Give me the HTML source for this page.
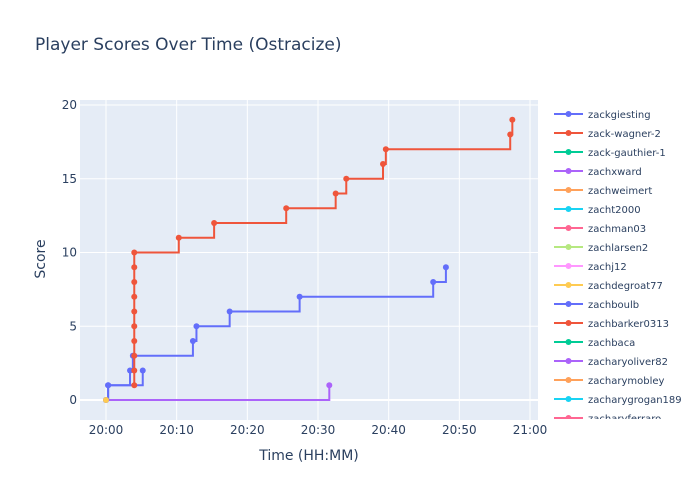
<!DOCTYPE html>
<html><head><meta charset="utf-8"><style>
body{margin:0;background:#fff;font-family:"DejaVu Sans","Liberation Sans",sans-serif}
svg text{font-family:"DejaVu Sans","Liberation Sans",sans-serif;fill:#2a3f5f}
</style></head><body>
<svg id="c" width="700" height="500">
<text x="35" y="50" font-size="17">Player Scores Over Time (Ostracize)</text>
<rect x="80" y="100" width="458" height="320" fill="#e5ecf6"/>
<g id="grid"></g><g id="series"></g><g id="legend"></g>
<text x="309" y="460" font-size="14" text-anchor="middle">Time (HH:MM)</text>
<text x="45" y="259" font-size="14" text-anchor="middle" transform="rotate(-90 45 259)">Score</text>
</svg>
<script>
const xTicks=[0,10,20,30,40,50,60];
const xTickLabels=["20:00","20:10","20:20","20:30","20:40","20:50","21:00"];
const yTicks=[0,5,10,15,20];
const legendNames=["zackgiesting","zack-wagner-2","zack-gauthier-1","zachxward","zachweimert","zacht2000","zachman03","zachlarsen2","zachj12","zachdegroat77","zachboulb","zachbarker0313","zachbaca","zacharyoliver82","zacharymobley","zacharygrogan189","zacharyferraro"];
const legendColors=["#636efa","#EF553B","#00cc96","#ab63fa","#FFA15A","#19d3f3","#FF6692","#B6E880","#FF97FF","#FECB52","#636efa","#EF553B","#00cc96","#ab63fa","#FFA15A","#19d3f3","#FF6692"];
// minutes after 20:00
const giestingT=[0,0.3,3.4,3.8,12.3,12.8,17.5,27.4,46.3,48.1];
const giestingV=[0,1,2,3,4,5,6,7,8,9];
const wagnerT=[4.0,4.0,4.0,4.0,4.0,4.0,4.0,4.0,4.0,4.0,10.3,15.3,25.5,32.5,34.0,39.2,39.6,57.2,57.5];
const wagnerV=[1,2,3,4,5,6,7,8,9,10,11,12,13,14,15,16,17,18,19];
const xwardT=[0,31.6];
const xwardV=[0,1];
const boulbT=[0,0.3,5.2];
const boulbV=[0,1,2];
const degroatT=[0];
const degroatV=[0];
const X=t=>106+t*7.0667, Y=v=>400-v*14.75;
const NS="http://www.w3.org/2000/svg";
const mk=(tag,at,par)=>{const e=document.createElementNS(NS,tag);for(const k in at)e.setAttribute(k,at[k]);par.appendChild(e);return e;};
const g=document.getElementById('grid');
xTicks.forEach((t,i)=>{
 const l=mk('line',{x1:X(t),x2:X(t),y1:100,y2:420,stroke:'#fff','stroke-width':1},g);
 
 
 const tx=mk('text',{x:X(t),y:434,'font-size':12,'text-anchor':'middle'},g);tx.textContent=xTickLabels[i];
 
 
});
yTicks.forEach(v=>{
 const l=mk('line',{x1:80,x2:538,y1:Y(v),y2:Y(v),stroke:'#fff','stroke-width':v===0?2:1},g);
 
 
 const tx=mk('text',{x:77,y:Y(v)+4,'font-size':12,'text-anchor':'end'},g);tx.textContent=v;
 
 
});
const s=document.getElementById('series');
function draw(T,V,color,name){
 let d='M'+X(T[0])+','+Y(V[0]);
 for(let i=1;i<T.length;i++){d+='H'+X(T[i])+'V'+Y(V[i]);}
 if(T.length>1){const p=mk('path',{d:d,fill:'none',stroke:color,'stroke-width':2},s);
 
 }
 T.forEach((t,i)=>{const c=mk('circle',{cx:X(t),cy:Y(V[i]),r:3,fill:color},s);
 
 });
}
draw(xwardT,xwardV,'#ab63fa','zachxward');
draw(boulbT,boulbV,'#636efa','zachboulb');
draw(giestingT,giestingV,'#636efa','zackgiesting');
draw(wagnerT,wagnerV,'#EF553B','zack-wagner-2');
draw(degroatT,degroatV,'#FECB52','zachdegroat77');
const lg=document.getElementById('legend');
const clip=mk('clipPath',{id:'lc'},lg);mk('rect',{x:550,y:100,width:150,height:319},clip);
const lgi=mk('g',{'clip-path':'url(#lc)'},lg);
legendNames.forEach((n,i)=>{
 const y=114+i*19;
 const it=mk('g',{},lgi);
 
 
 mk('line',{x1:554,x2:583,y1:y,y2:y,stroke:legendColors[i],'stroke-width':2},it);
 mk('circle',{cx:568.5,cy:y,r:3,fill:legendColors[i]},it);
 const t=mk('text',{x:588,y:y+4,'font-size':10},it);t.textContent=n;
});
</script>
</body></html>
